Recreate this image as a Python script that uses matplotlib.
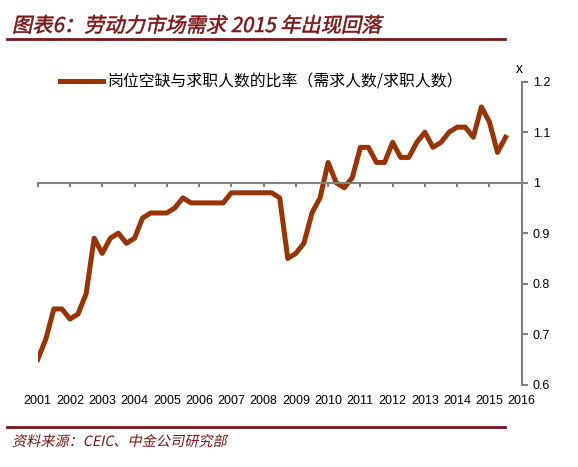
import matplotlib

matplotlib.use("Agg")
import matplotlib.pyplot as plt  # noqa: E402
import numpy as np  # noqa: E402
from matplotlib.font_manager import FontProperties  # noqa: E402
from matplotlib.patches import PathPatch  # noqa: E402
from matplotlib.textpath import TextPath  # noqa: E402
from matplotlib.transforms import Affine2D  # noqa: E402

plt.rcParams["font.family"] = ["Noto Sans CJK SC", "DejaVu Sans"]

# quarterly ratio, 2001Q1 .. 2015Q3
ratio = [
    0.65, 0.69, 0.75, 0.75,
    0.73, 0.74, 0.78, 0.89,
    0.86, 0.89, 0.90, 0.88,
    0.89, 0.93, 0.94, 0.94,
    0.94, 0.95, 0.97, 0.96,
    0.96, 0.96, 0.96, 0.96,
    0.98, 0.98, 0.98, 0.98,
    0.98, 0.98, 0.97, 0.85,
    0.86, 0.88, 0.94, 0.97,
    1.04, 1.00, 0.99, 1.01,
    1.07, 1.07, 1.04, 1.04,
    1.08, 1.05, 1.05, 1.08,
    1.10, 1.07, 1.08, 1.10,
    1.11, 1.11, 1.09, 1.15,
    1.12, 1.06, 1.09,
]
years = list(range(2001, 2017))
y_ticks = [0.6, 0.7, 0.8, 0.9, 1.0, 1.1, 1.2]
y_labels = ["0.6", "0.7", "0.8", "0.9", "1", "1.1", "1.2"]

series_label = "岗位空缺与求职人数的比率（需求人数/求职人数）"
title = "图表6：劳动力市场需求 2015 年出现回落"
source = "资料来源：CEIC、中金公司研究部"

W, H = 578, 467
DARK_RED = "#7a1616"
LINE = "#993300"
AXIS = "#808080"


def slanted_text(fig, x_px, y_px, s, size_pt, color, slant=12, stroke=0.0):
    """Draw faux-italic text (CJK fonts have no italic face)."""
    prop = FontProperties(family=["Noto Sans CJK SC", "DejaVu Sans"])
    path = TextPath((0, 0), s, size=size_pt / 72, prop=prop)
    tr = (Affine2D().skew_deg(slant, 0)
          .translate(x_px / fig.dpi, y_px / fig.dpi) + fig.dpi_scale_trans)
    fig.patches.append(PathPatch(path, transform=tr, facecolor=color,
                                 edgecolor=color, lw=stroke, figure=fig))


fig = plt.figure(figsize=(W / 100, H / 100), dpi=100)
ax = fig.add_axes([37.7 / W, (H - 384.7) / H, 484 / W, 303 / H])

x = np.arange(len(ratio))
ax.plot(x, ratio, color=LINE, lw=3.6, label=series_label)

ax.set_xlim(0, 4 * (years[-1] - years[0]))
ax.set_ylim(y_ticks[0], y_ticks[-1])

for side in ["left", "top"]:
    ax.spines[side].set_visible(False)
ax.spines["right"].set_color(AXIS)
ax.spines["right"].set_linewidth(1.5)
ax.spines["bottom"].set_position(("data", 1.0))
ax.spines["bottom"].set_color(AXIS)
ax.spines["bottom"].set_linewidth(1.5)

year_pos = [4 * (yr - years[0]) for yr in years]
ax.set_xticks(year_pos)
ax.tick_params(axis="x", direction="out", length=3, width=1.5,
               color=AXIS, labelbottom=False)
for pos, yr in zip(year_pos, years):
    ax.text(pos, -0.054, str(yr), transform=ax.get_xaxis_transform(),
            ha="center", va="center", fontsize=9, family="Liberation Sans")

ax.yaxis.tick_right()
ax.set_yticks(y_ticks)
ax.set_yticklabels(y_labels, family="Liberation Sans", fontsize=9)
ax.tick_params(axis="y", direction="out", length=4, width=1.5,
               color=AXIS, pad=4)
ax.annotate("x", xy=(1, 1), xycoords="axes fraction", xytext=(-2, 9.5),
            textcoords="offset points", ha="center", va="center",
            fontsize=10, family="Liberation Sans")

ax.legend(loc="center left", bbox_to_anchor=(60 / W, (H - 82) / H),
          bbox_transform=fig.transFigure, frameon=False, borderpad=0,
          borderaxespad=0, handlelength=2.7, handletextpad=0.3,
          prop={"size": 11.4})

# title, rules and source
slanted_text(fig, 12, H - 32, title, 14.6, DARK_RED, stroke=0.4)
fig.add_artist(plt.Line2D([7 / W, 505 / W], [(H - 38.5) / H] * 2,
                          color=DARK_RED, lw=2, transform=fig.transFigure))
fig.add_artist(plt.Line2D([7 / W, 505 / W], [(H - 426.7) / H] * 2,
                          color=DARK_RED, lw=2, transform=fig.transFigure))
slanted_text(fig, 12, H - 446, source, 10.2, DARK_RED)

fig.savefig("out.png", dpi=100)
